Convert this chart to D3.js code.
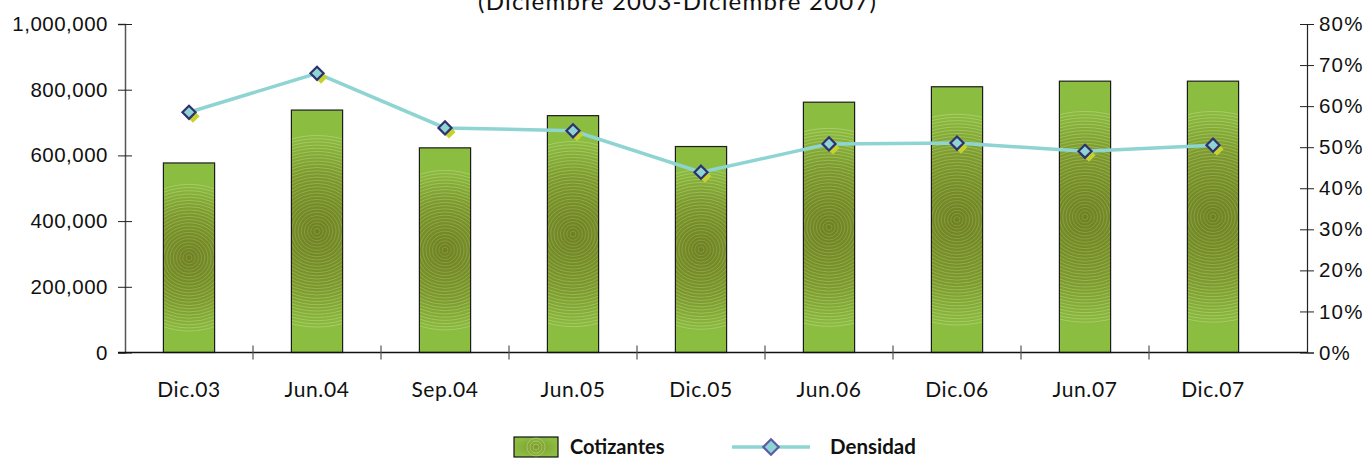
<!DOCTYPE html>
<html>
<head>
<meta charset="utf-8">
<script src="https://cdn.jsdelivr.net/npm/d3@7"></script>
<style>
  body { margin: 0; background: #fff; }
  svg { font-family: Lato, "Open Sans", sans-serif; }
</style>
</head>
<body>
<svg id="chart" width="1371" height="458"></svg>
<script>
// chart data
const categories = ['Dic.03', 'Jun.04', 'Sep.04', 'Jun.05', 'Dic.05', 'Jun.06', 'Dic.06', 'Jun.07', 'Dic.07'];
const cotizantes = [577000, 738000, 623000, 721000, 627000, 762000, 809000, 826000, 826000];
const densidad = [0.585, 0.680, 0.547, 0.540, 0.439, 0.508, 0.510, 0.490, 0.505];
const leftTicks = [0, 200000, 400000, 600000, 800000, 1000000];
const rightTicks = [0, 0.1, 0.2, 0.3, 0.4, 0.5, 0.6, 0.7, 0.8];
const subtitle = '(Diciembre 2003-Diciembre 2007)';

(function () {
const svg = d3.select('#chart');
const plotLeft = 125, plotRight = 1307, plotTop = 24, plotBottom = 352.5;
const bandWidth = 128;

const x = d3.scaleBand()
  .domain(categories)
  .range([plotLeft, plotLeft + bandWidth * categories.length])
  .paddingInner(0.6)
  .paddingOuter(0.3);

const yL = d3.scaleLinear().domain([0, 1000000]).range([plotBottom, plotTop]);
const yR = d3.scaleLinear().domain([0, 0.8]).range([plotBottom, plotTop]);

const fmt = d3.format(',');
const pct = d3.format('.0%');

// subtitle, its upper part falls above the picture like the original
svg.append('text')
  .attr('x', 677).attr('y', 10)
  .attr('text-anchor', 'middle')
  .attr('font-size', 24)
  .attr('textLength', 398)
  .attr('lengthAdjust', 'spacing')
  .attr('fill', '#111')
  .text(subtitle);

const defs = svg.append('defs');

// bars with radial ring pattern
const barG = svg.append('g');
cotizantes.forEach((v, i) => {
  const bx = x(categories[i]);
  const bw = x.bandwidth();
  const by = yL(v);
  const bh = yL(0) - by;
  const cx = bx + bw / 2, cy = by + bh / 2, r = bh * 0.4;

  const grad = defs.append('radialGradient')
    .attr('id', 'g' + i)
    .attr('gradientUnits', 'userSpaceOnUse')
    .attr('cx', cx).attr('cy', cy).attr('r', r);
  grad.append('stop').attr('offset', '0%').attr('stop-color', '#6f8023');
  grad.append('stop').attr('offset', '60%').attr('stop-color', '#7c9a2d');
  grad.append('stop').attr('offset', '100%').attr('stop-color', '#8bbd40');

  defs.append('clipPath').attr('id', 'c' + i)
    .append('rect').attr('x', bx).attr('y', by).attr('width', bw).attr('height', bh);

  const g = barG.append('g');
  g.append('rect')
    .attr('x', bx).attr('y', by).attr('width', bw).attr('height', bh)
    .attr('fill', 'url(#g' + i + ')');

  const rings = g.append('g').attr('clip-path', 'url(#c' + i + ')');
  rings.selectAll('circle')
    .data(d3.range(3, r, 3.2))
    .enter().append('circle')
      .attr('cx', cx).attr('cy', cy)
      .attr('r', d => d)
      .attr('fill', 'none')
      .attr('stroke', '#d9e6a6')
      .attr('stroke-opacity', d => 0.25 + 0.25 * d / r)
      .attr('stroke-width', 0.8);

  g.append('rect')
    .attr('x', bx).attr('y', by).attr('width', bw).attr('height', bh)
    .attr('fill', 'none')
    .attr('stroke', '#1d1d1d')
    .attr('stroke-width', 1.2);
});

// left axis
const leftAxis = svg.append('g')
  .attr('transform', `translate(${plotLeft},0)`)
  .call(d3.axisLeft(yL).tickValues(leftTicks).tickFormat(fmt).tickSize(7).tickPadding(10));
leftAxis.select('.domain').attr('stroke', '#555').attr('stroke-width', 1.5);
leftAxis.selectAll('.tick line').attr('x2', 7).attr('x1', -7).attr('stroke', '#222');
leftAxis.selectAll('.tick text')
  .attr('font-size', 20.5).attr('letter-spacing', 0.5).attr('fill', '#111');

// right axis
const rightAxis = svg.append('g')
  .attr('transform', `translate(${plotRight},0)`)
  .call(d3.axisRight(yR).tickValues(rightTicks).tickFormat(pct).tickSize(7).tickPadding(5));
rightAxis.select('.domain').attr('stroke', '#222').attr('stroke-width', 1.2);
rightAxis.selectAll('.tick line').attr('x1', -7).attr('x2', 7).attr('stroke', '#222');
rightAxis.selectAll('.tick text')
  .attr('font-size', 20.5).attr('letter-spacing', 1.2).attr('fill', '#111');

// x axis
svg.append('line')
  .attr('x1', plotLeft - 7).attr('x2', plotRight)
  .attr('y1', plotBottom).attr('y2', plotBottom)
  .attr('stroke', '#111').attr('stroke-width', 1.5);

svg.append('g').selectAll('line')
  .data(categories.slice(1))
  .enter().append('line')
    .attr('x1', d => x(d) - x.step() * x.paddingInner() / 2)
    .attr('x2', d => x(d) - x.step() * x.paddingInner() / 2)
    .attr('y1', plotBottom - 7).attr('y2', plotBottom + 7)
    .attr('stroke', '#555').attr('stroke-width', 1.2);

svg.append('g').selectAll('text')
  .data(categories)
  .enter().append('text')
    .attr('x', d => x(d) + x.bandwidth() / 2)
    .attr('y', 397)
    .attr('text-anchor', 'middle')
    .attr('font-size', 21)
    .attr('letter-spacing', 0.6)
    .attr('fill', '#111')
    .text(d => d);

// densidad line
const line = d3.line()
  .x((d, i) => x(categories[i]) + x.bandwidth() / 2)
  .y(d => yR(d));

svg.append('path')
  .datum(densidad)
  .attr('d', line)
  .attr('fill', 'none')
  .attr('stroke', '#8ed4d2')
  .attr('stroke-width', 3.5);

const diamond = d3.symbol().type(d3.symbolDiamond2).size(110);
const marks = svg.append('g').selectAll('g')
  .data(densidad)
  .enter().append('g')
    .attr('transform', (d, i) => `translate(${x(categories[i]) + x.bandwidth() / 2},${yR(d)})`);
marks.append('path')
  .attr('d', diamond)
  .attr('transform', 'translate(4,4)')
  .attr('fill', '#c5d12f');
marks.append('path')
  .attr('d', diamond)
  .attr('fill', '#8ed4d2')
  .attr('stroke', '#2f3170')
  .attr('stroke-width', 2.2);

// legend
const legend = svg.append('g');
const lgGrad = defs.append('radialGradient').attr('id', 'lg');
lgGrad.append('stop').attr('offset', '0%').attr('stop-color', '#7c9a2d');
lgGrad.append('stop').attr('offset', '100%').attr('stop-color', '#8bbd40');
legend.append('rect')
  .attr('x', 514).attr('y', 437).attr('width', 44).attr('height', 20)
  .attr('fill', 'url(#lg)').attr('stroke', '#111').attr('stroke-width', 1.2);
legend.selectAll('circle.ring')
  .data([3, 6, 9])
  .enter().append('circle')
    .attr('cx', 536).attr('cy', 447).attr('r', d => d)
    .attr('fill', 'none').attr('stroke', '#d9e6a6').attr('stroke-opacity', 0.5).attr('stroke-width', 0.8);
legend.append('text')
  .attr('x', 570).attr('y', 454)
  .attr('font-size', 20).attr('font-weight', 'bold').attr('fill', '#111')
  .text('Cotizantes');

legend.append('line')
  .attr('x1', 732).attr('x2', 810).attr('y1', 447).attr('y2', 447)
  .attr('stroke', '#8ed4d2').attr('stroke-width', 3.5);
legend.append('path')
  .attr('d', d3.symbol().type(d3.symbolDiamond2).size(150))
  .attr('transform', 'translate(771,447)')
  .attr('fill', '#8ed4d2').attr('stroke', '#5b5aa8').attr('stroke-width', 2.2);
legend.append('text')
  .attr('x', 830).attr('y', 454)
  .attr('font-size', 20.5).attr('font-weight', 'bold').attr('fill', '#111')
  .text('Densidad');
})();
</script>
</body>
</html>
